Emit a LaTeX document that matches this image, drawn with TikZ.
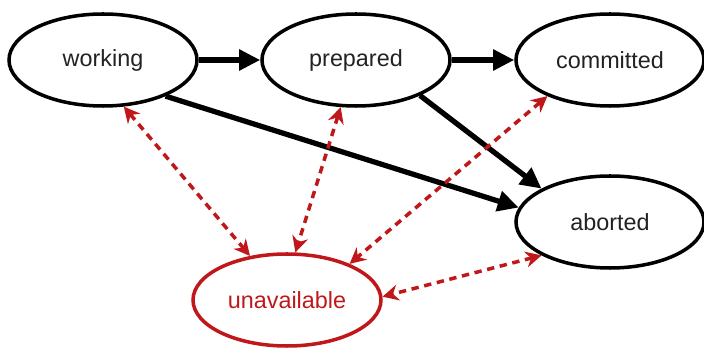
\documentclass[tikz,border=0pt]{standalone}
\usepackage{fontspec}
\setmainfont{Liberation Sans}
\usetikzlibrary{shapes.geometric}
\usetikzlibrary{arrows.meta}
\definecolor{failred}{RGB}{192,24,26}
\definecolor{txtgray}{RGB}{34,34,34}

\begin{document}
\begin{tikzpicture}[
  state/.style={ellipse,draw=black,line width=2pt,minimum width=3.76cm,minimum height=1.84cm,inner sep=0pt,font=\fontsize{13.3}{15}\selectfont,text=txtgray},
  failstate/.style={state,draw=failred,text=failred},
  move/.style={line width=3pt,-{Triangle[length=0.42cm,width=0.4cm]}},
  outage/.style={failred,line width=2pt,dash pattern=on 4.2pt off 3.2pt,{Stealth[length=0.32cm,width=0.32cm]}-{Stealth[length=0.32cm,width=0.32cm]}}]
\useasboundingbox (0,0) rectangle (14.08,7.10);

\node[state] (working) at (2.06,5.90) {working};
\node[state] (prepared) at (7.12,5.90) {prepared};
\node[state] (committed) at (12.2,5.90) {committed};
\node[state] (aborted) at (12.2,2.66) {aborted};
\node[failstate] (unavailable) at (5.74,1.10) {unavailable};

\draw[move] (working.east) -- (prepared.west);
\draw[move] (prepared.east) -- (committed.west);
\draw[move] (working.-30) -- (aborted.171);
\draw[move] (prepared.-29) -- (aborted.154);

\draw[outage] (working.-66) -- (unavailable.130);
\draw[outage] (prepared.-108) -- (unavailable.80);
\draw[outage] (committed.-150) -- (unavailable.30);
\draw[outage] (aborted.-154) -- (unavailable.2);

\end{tikzpicture}
\end{document}
